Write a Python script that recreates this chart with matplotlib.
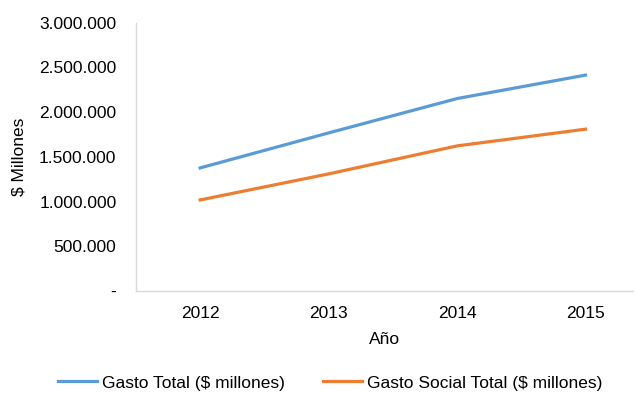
import matplotlib.pyplot as plt
from matplotlib.ticker import FuncFormatter

plt.rcParams['font.family'] = ['Liberation Sans', 'DejaVu Sans']

years = ['2012', '2013', '2014', '2015']
gasto_total = [1376000, 1767000, 2151000, 2413000]
gasto_social = [1018000, 1309000, 1622000, 1809000]

def miles(v, pos):
    if v == 0:
        return '-'
    return f'{int(v):,}'.replace(',', '.')

fig = plt.figure(figsize=(6.35, 3.96), dpi=100)
ax = fig.add_axes([0.214, 0.265, 0.783, 0.678])

x = range(len(years))
ax.plot(x, gasto_total, color='#5B9BD5', lw=2.3, label='Gasto Total ($ millones)')
ax.plot(x, gasto_social, color='#ED7D31', lw=2.3, label='Gasto Social Total ($ millones)')

ax.set_xlim(-0.5, 3.37)
ax.set_ylim(0, 3000000)
ax.set_yticks(range(0, 3000001, 500000))
ax.yaxis.set_major_formatter(FuncFormatter(miles))
ax.set_xticks(list(x))
ax.set_xticklabels(years)
ax.tick_params(length=0, labelsize=12.5, colors='#000000')
ax.tick_params(axis='y', pad=14)
ax.tick_params(axis='x', pad=11)

for s in ['top', 'right']:
    ax.spines[s].set_visible(False)
for s in ['left', 'bottom']:
    ax.spines[s].set_color('#D9D9D9')
    ax.spines[s].set_linewidth(1)

ax.set_ylabel('$ Millones', fontsize=12.5, labelpad=9)
ax.set_xlabel('Año', fontsize=12.5, labelpad=8)

fig.legend(loc='center', bbox_to_anchor=(0.52, 1 - 383 / 396), ncol=2, frameon=False,
           fontsize=12.5, handlelength=2.25, handletextpad=0.3, columnspacing=2.2)

fig.savefig('out.png', dpi=100)
